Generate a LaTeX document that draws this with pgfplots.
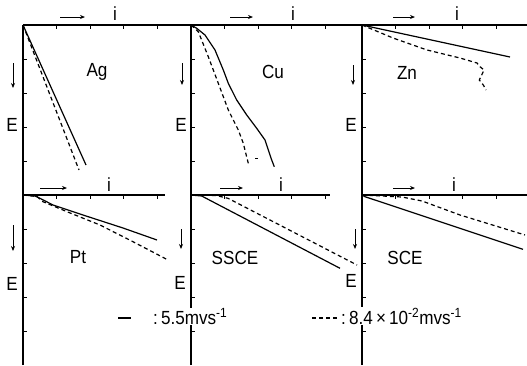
\documentclass[border=0pt]{standalone}
\usepackage{fontspec}
\setmainfont[FakeStretch=0.9]{Liberation Sans}
\usepackage{pgfplots}
\pgfplotsset{compat=1.18}
\usetikzlibrary{arrows.meta}
\newcommand\lbl{\fontsize{19}{22}\selectfont}
\pgfplotsset{
 panel/.style n args={3}{%
   at={(#2pt,-#3pt)}, anchor=north west, scale only axis,
   width=#1pt, height=170pt, xmin=0, xmax=#1, ymin=-170, ymax=0,
   axis x line*=top, axis y line*=left,
   axis line style={-, line width=1.4pt},
   xtick={33.5,67,100.5,134}, ytick={-34,-68,-102,-136},
   xticklabels={}, yticklabels={},
   tick label style={opacity=0},
   tick align=inside, major tick length=4pt,
   tick style={line width=0.9pt, black},
   clip=false,
 },
 sol/.style={black, line width=1.2pt, no marks},
 das/.style={black, line width=1.2pt, no marks, dash pattern=on 4pt off 3pt},
}
\tikzset{arr/.style={-{Stealth[length=5pt,width=4pt]}, line width=0.9pt}}
\begin{document}
\begin{tikzpicture}
\useasboundingbox (0,0) rectangle (527pt,-365pt);
% Ag
\begin{axis}[panel={168}{23}{25}]
\addplot[sol] coordinates {(0,0) (63,-140)};
\addplot[das] coordinates {(0,0) (56,-145)};
\node[font=\lbl] at (74,-47) {Ag};
\draw[arr] (37,8) -- (62,8);
\node[font=\lbl, anchor=base] at (92,5) {i};
\draw[arr] (-10,-38) -- (-10,-63);
\node[font=\lbl] at (-11,-100) {E};
\end{axis}
% Cu
\begin{axis}[panel={171}{191}{25}]
\addplot[sol] coordinates {(0,0) (5.7,-3.3) (14,-10) (24,-25) (32.3,-45) (37.3,-58.3) (45.7,-75) (55.7,-90) (65.7,-103.3) (74,-115) (77.3,-125) (80.7,-135) (83.3,-141.7)};
\addplot[das] coordinates {(0,0) (7.3,-6.7) (17.3,-31.7) (27.3,-58.3) (37.3,-85) (47.3,-105) (52.3,-118.3) (57.3,-138.3)};
\addplot[sol, line width=0.9pt] coordinates {(64,-133.3) (67,-133.3)};
\node[font=\lbl] at (82,-47) {Cu};
\draw[arr] (39,8) -- (62,8);
\node[font=\lbl, anchor=base] at (102,5) {i};
\draw[arr] (-9,-38) -- (-9,-60);
\node[font=\lbl] at (-10,-100) {E};
\end{axis}
% Zn
\begin{axis}[panel={165}{362}{25}]
\addplot[sol] coordinates {(0,0) (148,-32)};
\addplot[das] coordinates {(0,0) (31,-13) (65,-25) (98,-33) (115,-38) (118,-41.7) (122,-45) (119.7,-50) (117.3,-55) (121.3,-60) (124,-65)};
\node[font=\lbl] at (45,-48) {Zn};
\draw[arr] (31,8) -- (53,8);
\node[font=\lbl, anchor=base] at (95,5) {i};
\draw[arr] (-9,-40) -- (-9,-60);
\node[font=\lbl] at (-11,-100) {E};
\end{axis}
% Pt
\begin{axis}[panel={142}{23}{195}]
\addplot[sol] coordinates {(0,0) (12,-1) (17,-3.3) (30,-10) (60,-20) (100,-33) (134,-45)};
\addplot[das] coordinates {(0,0) (14,-1.5) (20,-6.7) (44,-16.7) (77,-30) (110,-46.7) (145,-65)};
\node[font=\lbl] at (55,-62) {Pt};
\draw[arr] (17,7) -- (44,7);
\node[font=\lbl, anchor=base] at (86,4) {i};
\draw[arr] (-10,-30) -- (-10,-56);
\node[font=\lbl] at (-11,-89) {E};
\end{axis}
% SSCE
\begin{axis}[panel={139}{191}{195}]
\addplot[sol] coordinates {(0,0) (10.7,-1) (149,-73.3)};
\addplot[das] coordinates {(0,0) (25,-0.5) (37,-3.3) (166,-70)};
\node[font=\lbl] at (44,-63) {SSCE};
\draw[arr] (29,7) -- (52,7);
\node[font=\lbl, anchor=base] at (90,4) {i};
\draw[arr] (-10,-34) -- (-10,-54);
\node[font=\lbl] at (-11,-88) {E};
\end{axis}
% SCE
\begin{axis}[panel={165}{362}{195}]
\addplot[sol] coordinates {(0,0) (3,-1.7) (161,-54.3)};
\addplot[das] coordinates {(0,0) (40,-2) (60,-6) (98,-20) (163,-40)};
\node[font=\lbl] at (43,-63) {SCE};
\draw[arr] (31,7) -- (53,7);
\node[font=\lbl, anchor=base] at (92,4) {i};
\draw[arr] (-7,-34) -- (-7,-54);
\node[font=\lbl] at (-11,-86) {E};
\end{axis}
% legend
\draw[line width=1.2pt] (118pt,-318pt) -- (131pt,-318pt);
\node[font=\lbl, anchor=base west, fill=white, inner sep=1pt] at (152pt,-324pt) {:\,5.5mvs\textsuperscript{-1}};
\draw[line width=1.2pt, dash pattern=on 4pt off 3pt] (312pt,-318pt) -- (338pt,-318pt);
\node[font=\lbl, anchor=base west, fill=white, inner sep=1pt] at (340pt,-324pt) {:\,8.4\,×\,10\textsuperscript{-2}mvs\textsuperscript{-1}};
\end{tikzpicture}
\end{document}
